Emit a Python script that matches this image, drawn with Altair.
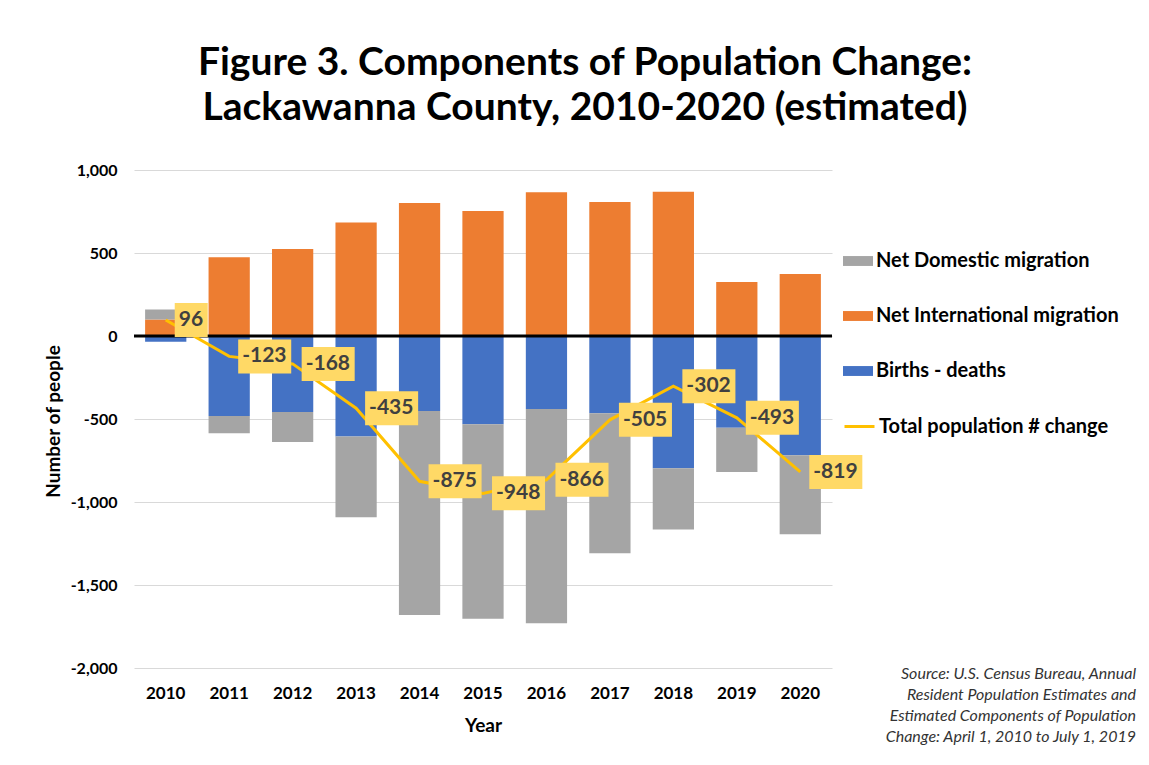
import altair as alt
import pandas as pd

years = ["2010", "2011", "2012", "2013", "2014", "2015", "2016", "2017", "2018", "2019", "2020"]
net_international = [100, 474, 524, 683, 801, 753, 866, 807, 869, 325, 373]
births_minus_deaths = [-34, -482, -458, -606, -452, -532, -440, -466, -797, -552, -719]
net_domestic = [60, -104, -181, -486, -1229, -1171, -1291, -843, -368, -267, -476]
total_change = [96, -123, -168, -435, -875, -948, -866, -505, -302, -493, -819]

components = ["Net Domestic migration", "Net International migration", "Births - deaths"]
component_colors = ["#A5A5A5", "#ED7D31", "#4472C4"]
line_name = "Total population # change"
y_ticks = [-2000, -1500, -1000, -500, 0, 500, 1000]

title_lines = ["Figure 3. Components of Population Change:", "Lackawanna County, 2010-2020 (estimated)"]
source_lines = [
    "Source: U.S. Census Bureau, Annual",
    "Resident Population Estimates and",
    "Estimated Components of Population",
    "Change: April 1, 2010 to July 1, 2019",
]

rows = []
for i, yr in enumerate(years):
    rows.append({"Year": yr, "component": "Births - deaths", "value": births_minus_deaths[i], "stack_order": 0})
    rows.append({"Year": yr, "component": "Net International migration", "value": net_international[i], "stack_order": 1})
    rows.append({"Year": yr, "component": "Net Domestic migration", "value": net_domestic[i], "stack_order": 2})
bars_df = pd.DataFrame(rows)
total_df = pd.DataFrame({"Year": years, "value": total_change, "series": line_name})
one = pd.DataFrame({"k": [0]})

FONT = "Lato"

xscale = alt.Scale(domain=years, paddingInner=0.35, paddingOuter=0.175)
yscale = alt.Scale(domain=[-2000, 1000], nice=False, zero=False)

x_axis = alt.Axis(
    title="Year", labelAngle=0, labelFont=FONT, labelFontSize=17, labelFontWeight="bold",
    labelColor="#000000", labelPadding=17, domain=False, ticks=False, grid=False,
    titleFont=FONT, titleFontSize=19, titleFontWeight="bold", titleColor="#000000",
    titleY=57, titleBaseline="middle",
)
y_axis = alt.Axis(
    title="Number of people", values=y_ticks,
    labelExpr="replace(format(datum.value, ','), '\u2212', '-')",
    labelFont=FONT, labelFontSize=16, labelFontWeight="bold", labelColor="#000000",
    labelPadding=17, domain=False, ticks=False, gridColor="#D9D9D9", gridWidth=1,
    titleFont=FONT, titleFontSize=19, titleFontWeight="bold", titleColor="#000000",
    titleX=-81, titleY=251, titleAngle=270, titleBaseline="middle", titleAlign="center",
)

X = alt.X("Year:N", scale=xscale, sort=years, axis=x_axis)
Y = alt.Y("value:Q", scale=yscale, axis=y_axis)

box_path = "M0.53,-1H3.65V1H0.53Z"
box_path_short = "M0.53,-1H2.47V1H0.53Z"

legend_common = dict(
    orient="none", legendX=709, direction="vertical", title=None,
    labelFont=FONT, labelFontSize=20, labelFontWeight="bold", labelColor="#000000",
    labelOffset=3, padding=0, offset=0, labelLimit=400,
)

bars = alt.Chart(bars_df).mark_bar().encode(
    x=X,
    y=alt.Y("value:Q", scale=yscale, axis=y_axis, stack="zero"),
    color=alt.Color(
        "component:N",
        scale=alt.Scale(domain=components, range=component_colors),
        legend=alt.Legend(
            legendY=76, symbolType="M-1,-0.33H1V0.33H-1Z", symbolSize=900, symbolStrokeWidth=0,
            rowPadding=30, **legend_common,
        ),
    ),
    order=alt.Order("stack_order:Q", sort="ascending"),
)

zero_rule = alt.Chart(one).mark_rule(color="black", strokeWidth=3).encode(y=alt.datum(0, scale=yscale))

line = alt.Chart(total_df).mark_line(strokeWidth=3).encode(
    x=X,
    y=Y,
    stroke=alt.Stroke(
        "series:N",
        scale=alt.Scale(domain=[line_name], range=["#FFC000"]),
        legend=alt.Legend(
            legendY=240, symbolType="stroke", symbolSize=900, symbolStrokeWidth=3,
            **legend_common,
        ),
    ),
)

boxes = alt.Chart(total_df).transform_calculate(
    box=f"length(toString(datum.value)) > 2 ? '{box_path}' : '{box_path_short}'"
).mark_point(filled=True, opacity=1, size=1156, color="#FFD966", strokeWidth=0).encode(
    x=X, y=Y, shape=alt.Shape("box:N", scale=None)
)

labels = alt.Chart(total_df).transform_calculate(
    label="toString(datum.value)"
).mark_text(
    align="left", baseline="middle", dx=13, font=FONT, fontSize=21, fontWeight="bold", color="#404040"
).encode(x=X, y=Y, text="label:N")

title1 = alt.Chart(one).mark_text(
    text=title_lines[0], font=FONT, fontSize=39, fontWeight="bold", color="#000000",
    align="center", baseline="middle",
).encode(x=alt.value(451), y=alt.value(-107))
title2 = alt.Chart(one).mark_text(
    text=title_lines[1], font=FONT, fontSize=39, fontWeight="bold", color="#000000",
    align="center", baseline="middle",
).encode(x=alt.value(451), y=alt.value(-62))

source = alt.Chart(one).mark_text(
    text=source_lines, font=FONT, fontSize=16, fontStyle="italic", color="#333333",
    align="right", baseline="top", lineHeight=21,
).encode(x=alt.value(1002), y=alt.value(496))

chart = alt.layer(bars, zero_rule, line, boxes, labels, title1, title2, source).properties(
    width=698,
    height=498,
    autosize=alt.AutoSizeParams(type="none"),
    padding={"left": 126, "top": 162, "right": 307, "bottom": 80},
    background="white",
).configure_view(stroke=None)

chart.save("out.html", embed_options={"renderer": "svg", "actions": False})
